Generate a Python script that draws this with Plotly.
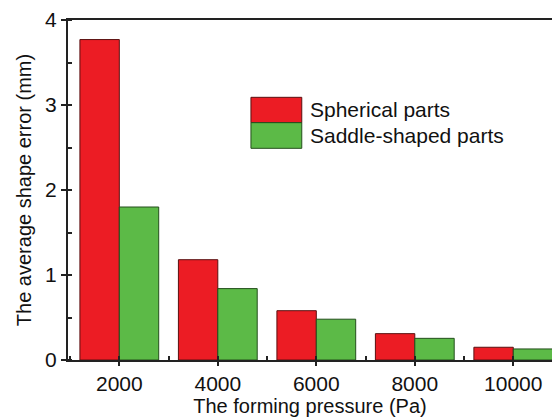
import plotly.graph_objects as go

pressure = [2000, 4000, 6000, 8000, 10000]
spherical = [3.77, 1.18, 0.58, 0.31, 0.15]
saddle = [1.80, 0.84, 0.48, 0.255, 0.13]
series_names = ["Spherical parts", "Saddle-shaped parts"]
colors = ["#EC1C24", "#5CBA47"]
outlines = ["#5a1010", "#244f1c"]

FONT = "Liberation Sans, Arial, sans-serif"

fig = go.Figure()
for name, vals, c, oc in zip(series_names, [spherical, saddle], colors, outlines):
    fig.add_trace(go.Bar(x=pressure, y=vals, name=name, marker=dict(color=c, line=dict(color=oc, width=1)),
                         showlegend=False))

fig.update_layout(
    width=552, height=418,
    margin=dict(l=68, r=0, t=20, b=58),
    paper_bgcolor="white", plot_bgcolor="white",
    barmode="group", bargap=0.2, bargroupgap=0,
    font=dict(family=FONT, color="#111", size=20),
)
fig.update_xaxes(
    range=[958, 10786], tickvals=pressure, ticktext=[str(p) for p in pressure],
    showline=True, linecolor="#222", linewidth=2, mirror=True,
    ticks="outside", ticklen=4, tickwidth=2, tickcolor="#222",
    minor=dict(dtick=1000, tick0=1000, ticks="inside", ticklen=4, tickwidth=2, tickcolor="#222"),
    showgrid=False, zeroline=False,
    tickfont=dict(size=21),
    title=dict(text="The forming pressure (Pa)", font=dict(size=20), standoff=4),
)
fig.update_yaxes(
    range=[0, 4], tickvals=[0, 1, 2, 3, 4],
    showline=True, linecolor="#222", linewidth=2, mirror=False,
    ticks="outside", ticklen=5, tickwidth=2, tickcolor="#222", ticklabelstandoff=0,
    minor=dict(dtick=0.5, ticks="inside", ticklen=4, tickwidth=2, tickcolor="#222"),
    showgrid=False, zeroline=False,
    tickfont=dict(size=21),
    title=dict(text="The average shape error (mm)", font=dict(size=20), standoff=8),
)

# legend drawn as swatches + labels
leg_y = [(0.7726, 0.698), (0.698, 0.6226)]
for (y1, y0), c, oc, name in zip(leg_y, colors, outlines, series_names):
    fig.add_shape(type="rect", xref="paper", yref="paper", x0=0.378, x1=0.483, y0=y0, y1=y1,
                  fillcolor=c, line=dict(color=oc, width=1))
    fig.add_annotation(xref="paper", yref="paper", x=0.496, y=(y0 + y1) / 2, text=name,
                       showarrow=False, xanchor="left", yanchor="middle", font=dict(size=21))

fig.write_html("out.html")
